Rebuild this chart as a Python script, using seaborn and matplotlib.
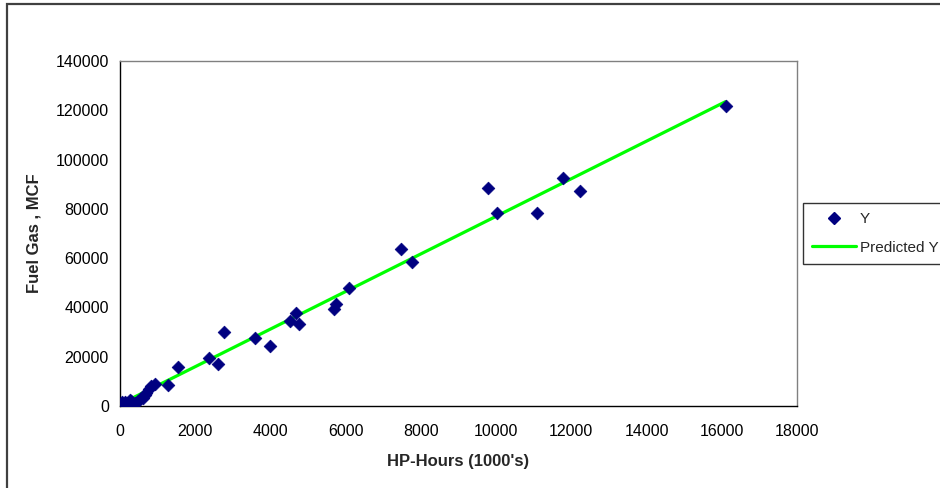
import matplotlib
matplotlib.use("Agg")
import matplotlib.pyplot as plt
from matplotlib.patches import Rectangle
from matplotlib.lines import Line2D
import seaborn as sns
import pandas as pd

# Observed fuel gas use against compressor HP-hours
hp_hours = [60, 120, 190, 260, 300, 400, 480, 540, 604, 660, 700, 760, 830, 940,
            1280, 1551, 2366, 2614, 2765, 3590, 3980, 4512, 4680, 4760, 5690,
            5743, 6097, 7471, 7764, 9785, 10024, 11088, 11779, 12231, 16105]
fuel_gas = [1500, 1800, 1200, 2300, 1900, 1200, 2000, 2800, 3300, 4600, 5200,
            6800, 8100, 9100, 8400, 15700, 19600, 17050, 30030, 27470, 24350,
            34370, 37620, 33150, 39240, 41400, 48010, 63720, 58440, 88470,
            78330, 78330, 92530, 87260, 121750]

# Regression line end points
pred_x = [60, 16100]
pred_y = [1160, 123500]

x_ticks = [0, 2000, 4000, 6000, 8000, 10000, 12000, 14000, 16000, 18000]
y_ticks = [0, 20000, 40000, 60000, 80000, 100000, 120000, 140000]

obs = pd.DataFrame({"hp": hp_hours, "gas": fuel_gas})
pred = pd.DataFrame({"hp": pred_x, "gas": pred_y})

sns.set_style("white")
plt.rcParams["font.family"] = ["Liberation Sans", "DejaVu Sans"]

W, H = 940, 488
fig = plt.figure(figsize=(W / 100, H / 100), dpi=100)
ax = fig.add_axes([120 / W, 1 - 406 / H, (797 - 120) / W, (406 - 61) / H])

sns.lineplot(data=pred, x="hp", y="gas", ax=ax, color="#00FF00", linewidth=2.3,
             zorder=2, legend=False)
sns.scatterplot(data=obs, x="hp", y="gas", ax=ax, marker="D", s=42,
                color="#000080", edgecolor="#000080", linewidth=0.5, zorder=3,
                legend=False)

ax.set_xlim(0, 18000)
ax.set_ylim(0, 140000)
ax.set_xticks(x_ticks)
ax.set_yticks(y_ticks)
ax.set_xticklabels([str(v) for v in x_ticks])
ax.set_yticklabels([str(v) for v in y_ticks])
ax.tick_params(axis="x", labelsize=11.5, colors="black", length=6,
               width=1, direction="inout", pad=10)
ax.tick_params(axis="y", labelsize=11.5, colors="black", length=5,
               width=1, direction="out", pad=3)

ax.set_xlabel("HP-Hours (1000's)", fontsize=12, fontweight="bold", labelpad=11)
ax.set_ylabel("Fuel Gas , MCF", fontsize=12, fontweight="bold", labelpad=10)

for side in ("left", "bottom"):
    ax.spines[side].set_color("black")
    ax.spines[side].set_linewidth(1.0)
for side in ("top", "right"):
    ax.spines[side].set_color("#808080")
    ax.spines[side].set_linewidth(1.0)
ax.grid(False)

handles = [
    Line2D([], [], marker="D", linestyle="none", color="#000080", markersize=6.5),
    Line2D([], [], color="#00FF00", linewidth=2.3),
]
leg = fig.legend(handles, ["Y", "Predicted Y"], loc="upper left",
                 bbox_to_anchor=(803 / W, 1 - 203 / H), fontsize=11,
                 frameon=True, fancybox=False, edgecolor="black",
                 handlelength=2.9, handletextpad=0.2, borderpad=0.6,
                 labelspacing=0.95, borderaxespad=0)
leg.get_frame().set_linewidth(1.0)

# Outer chart border
fig.patches.append(Rectangle((7 / W, -0.1), 1.2, 1 - 4 / H + 0.1,
                             transform=fig.transFigure, fill=False,
                             edgecolor="#404040", linewidth=1.6))

fig.savefig("out.png", dpi=100)
